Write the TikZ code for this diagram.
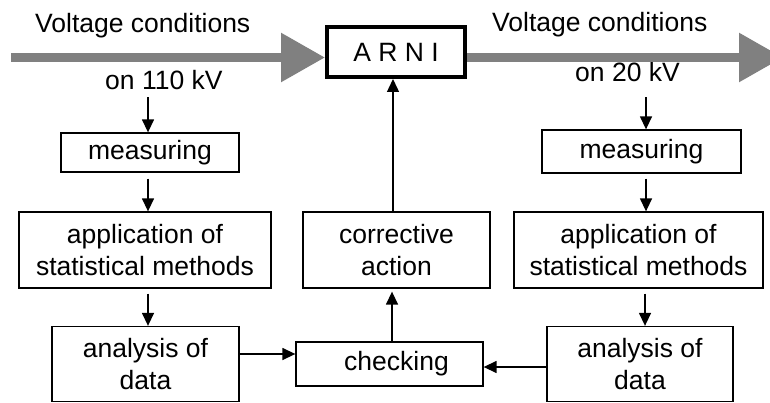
\documentclass[tikz,border=0pt]{standalone}
\usepackage{fontspec}
\setmainfont{Liberation Sans}
\usetikzlibrary{arrows.meta,calc}
\definecolor{flowgray}{RGB}{128,128,128}
\begin{document}
\begin{tikzpicture}[x=1pt,y=-1pt,
 box/.style={draw=black,line width=1.3pt,inner sep=0pt,align=center,font=\fontsize{26.5}{31.8}\selectfont},
 lbl/.style={inner sep=0pt,font=\fontsize{26.5}{31.8}\selectfont},
 arr/.style={line width=1.4pt,-{Triangle[width=12pt,length=13pt]}},
 flow/.style={line width=9pt,draw=flowgray,fill=flowgray,-{Triangle[width=47pt,length=44pt]}}]
\path[use as bounding box,fill=white] (0,0) rectangle (770,403);
% boxes
\node[box,minimum width=138pt,minimum height=50pt,line width=4pt] (arni) at (396,52) {A R N I};
\node[box,minimum width=178pt,minimum height=39pt] (mL) at (150,152.5) {measuring};
\node[box,minimum width=252pt,minimum height=76pt] (aL) at (145,250) {application of\\statistical methods};
\node[box,minimum width=187pt,minimum height=75pt] (dL) at (145.5,364) {analysis of\\data};
\node[box,minimum width=187pt,minimum height=44pt] (chk) at (389.5,364) {\hspace*{14pt}checking};
\node[box,minimum width=187pt,minimum height=76pt] (cor) at (396.5,250) {corrective\\action};
\node[box,minimum width=199pt,minimum height=43pt] (mR) at (641.5,151.5) {measuring};
\node[box,minimum width=249pt,minimum height=76pt] (aR) at (638.5,250) {application of\\statistical methods};
\node[box,minimum width=186pt,minimum height=75pt] (dR) at (640,364) {analysis of\\data};
% labels
\node[lbl,anchor=base west] (vL) at (35,33) {Voltage conditions};
\node[lbl,anchor=base west] (on110) at (105,90) {on 110 kV};
\node[lbl,anchor=base west] (vR) at (492,32) {Voltage conditions};
\node[lbl,anchor=base west] (on20) at (575,82) {on 20 kV};
% gray flow arrows
\coordinate (gL) at (11,57.5);
\coordinate (gR) at (783,57.5);
\begin{scope}
\clip (0,0) rectangle (770,403);
\draw[flow] (gL) -- (gL -| arni.west);
\draw[flow] (gR -| arni.east) -- (gR);
\end{scope}
% black arrows
\draw[arr] ($(on110.south -| mL.north)+(-2,7)$) -- ($(mL.north)+(-2,0)$);
\draw[arr] ($(mL.south)+(-2,6)$) -- ($(mL.south |- aL.north)+(-2,0)$);
\draw[arr] ($(mL.south |- aL.south)+(-2,5)$) -- ($(mL.south |- dL.north)+(-2,0)$);
\draw[arr] (dL.east |- 0,354) -- (chk.west |- 0,354);
\draw[arr] (dR.west |- 0,367) -- (chk.east |- 0,367);
\draw[arr] ($(chk.north)+(2.5,0)$) -- ($(chk.north |- cor.south)+(2.5,3)$);
\draw[arr] ($(cor.north)+(-3.5,0)$) -- ($(cor.north |- arni.south)+(-3.5,0)$);
\draw[arr] ($(on20.south -| mR.north)+(4.5,15)$) -- ($(mR.north)+(4.5,0)$);
\draw[arr] ($(mR.south)+(4.5,5)$) -- ($(mR.south |- aR.north)+(4.5,0)$);
\draw[arr] ($(mR.south |- aR.south)+(3.5,5)$) -- ($(mR.south |- dR.north)+(3.5,0)$);
\end{tikzpicture}
\end{document}
